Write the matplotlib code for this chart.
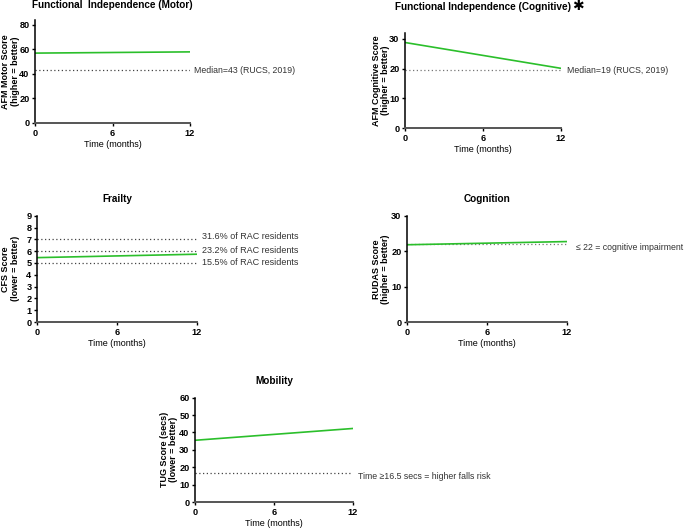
import matplotlib
matplotlib.use("Agg")
import matplotlib.pyplot as plt

plt.rcParams['font.family'] = ['Liberation Sans', 'DejaVu Sans']

months = [0, 12]
x_ticks = [0, 6, 12]

motor_score = [57, 58]
motor_median = 43
cognitive_score = [28.8, 20.1]
cognitive_median = 19.5
cfs_score = [5.45, 5.74]
cfs_levels = [7, 6, 5]
cfs_labels = ["31.6% of RAC residents", "23.2% of RAC residents", "15.5% of RAC residents"]
rudas_score = [21.8, 22.7]
rudas_cut = 22
tug_score = [35.5, 42.3]
tug_cut = 16.5

W, H = 685, 528
GREEN = '#2bbf2b'
DOT = '#444444'
TXT = '#333333'
NOTE_SIZE = 6.3

fig = plt.figure(figsize=(W / 100, H / 100), dpi=100)


def rect(left, right, top, bottom):
    return [left / W, 1 - bottom / H, (right - left) / W, (bottom - top) / H]


def make_axes(r, ylim, yticks, title, title_y, ylabel, ylabel_x):
    ax = fig.add_axes(rect(*r))
    ax.set_xlim(0, 12)
    ax.set_ylim(*ylim)
    ax.set_xticks(x_ticks)
    ax.set_yticks(yticks)
    ax.spines['top'].set_visible(False)
    ax.spines['right'].set_visible(False)
    ax.spines['left'].set_linewidth(1.1)
    ax.spines['bottom'].set_linewidth(1.4)
    ax.spines['bottom'].set_color('#555555')
    ax.tick_params(length=2.5, width=1, labelsize=6.6, pad=1.5)
    for lab in ax.get_xticklabels() + ax.get_yticklabels():
        lab.set_fontweight('bold')
    ax.set_xlabel('Time (months)', fontsize=6.5, labelpad=2)
    cx = (r[0] + r[1]) / 2
    fig.text(cx / W, 1 - title_y / H, title, ha='center', va='center',
             fontsize=7.2, fontweight='bold')
    cy = (r[2] + r[3]) / 2
    fig.text(ylabel_x / W, 1 - cy / H, ylabel, rotation=90, ha='center',
             va='center', fontsize=6.5, fontweight='bold', multialignment='center',
             linespacing=1.1)
    return ax


# motor
r1 = (35, 190, 20, 123)
ax1 = make_axes(r1, (0, 84), [0, 20, 40, 60, 80], 'Functional  Independence (Motor)', 5,
                'AFM Motor Score\n(higher = better)', 10.5)
ax1.plot([0, 12], [motor_median] * 2, color=DOT, lw=0.9, ls=(0, (1, 2)))
ax1.plot(months, motor_score, color=GREEN, lw=1.2)
ax1.text(12.3, motor_median, 'Median=43 (RUCS, 2019)', fontsize=NOTE_SIZE, color=TXT,
         va='center', clip_on=False)

# cognitive AFM
r2 = (405, 561, 33, 128)
ax2 = make_axes(r2, (0, 32), [0, 10, 20, 30], 'Functional Independence (Cognitive)', 7.5,
                'AFM Cognitive Score\n(higher = better)', 381)
fig.text(578 / W, 1 - 6.5 / H, '\u2731', ha='center', va='center', fontsize=10,
         family='DejaVu Sans', fontweight='bold')
ax2.plot([0, 12], [cognitive_median] * 2, color='#777777', lw=0.9, ls=(0, (1, 2)))
ax2.plot(months, cognitive_score, color=GREEN, lw=1.2)
ax2.text(12.45, cognitive_median, 'Median=19 (RUCS, 2019)', fontsize=NOTE_SIZE, color=TXT,
         va='center', clip_on=False)

# frailty
r3 = (37, 197, 215.7, 322)
ax3 = make_axes(r3, (0, 9), list(range(10)), 'Frailty', 199,
                'CFS Score\n(lower = better)', 10.5)
label_y = [7.2, 6.04, 5.0]
for lev, lab, ty in zip(cfs_levels, cfs_labels, label_y):
    ax3.plot([0, 12], [lev] * 2, color=DOT, lw=0.9, ls=(0, (1, 2)))
    ax3.text(12.4, ty, lab, fontsize=NOTE_SIZE + 0.2, color=TXT, va='center', clip_on=False)
ax3.plot(months, cfs_score, color=GREEN, lw=1.2)

# cognition RUDAS
r4 = (407, 567, 215.7, 322)
ax4 = make_axes(r4, (0, 30), [0, 10, 20, 30], 'Cognition', 199,
                'RUDAS Score\n(higher = better)', 381)
ax4.plot([0, 12], [rudas_cut] * 2, color='#777777', lw=0.9, ls=(0, (1, 2)))
ax4.plot(months, rudas_score, color=GREEN, lw=1.2)
ax4.text(12.65, 20.9, '\u2264 22 = cognitive impairment', fontsize=NOTE_SIZE, color=TXT,
         va='center', clip_on=False)

# mobility
r5 = (195, 353, 397.7, 502)
ax5 = make_axes(r5, (0, 60), [0, 10, 20, 30, 40, 50, 60], 'Mobility', 381,
                'TUG Score (secs)\n(lower = better)', 169)
ax5.plot([0, 12], [tug_cut] * 2, color=DOT, lw=0.9, ls=(0, (1, 2)))
ax5.plot(months, tug_score, color=GREEN, lw=1.2)
ax5.text(12.4, 14.5, 'Time \u226516.5 secs = higher falls risk', fontsize=NOTE_SIZE, color=TXT,
         va='center', clip_on=False)

fig.savefig('out.png', dpi=100)
